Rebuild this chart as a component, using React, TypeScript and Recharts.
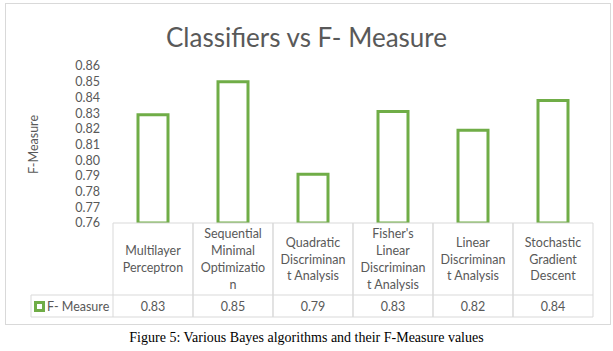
import React from 'react';
import { BarChart, Bar, XAxis, YAxis } from 'recharts';

// chart values
const categories = [
  'Multilayer Perceptron',
  'Sequential Minimal Optimization',
  'Quadratic Discriminant Analysis',
  "Fisher's Linear Discriminant Analysis",
  'Linear Discriminant Analysis',
  'Stochastic Gradient Descent',
];
// header cell text, wrapped the way the data table shows it
const categoryLines = [
  ['Multilayer', 'Perceptron'],
  ['Sequential', 'Minimal', 'Optimizatio', 'n'],
  ['Quadratic', 'Discriminan', 't Analysis'],
  ["Fisher's", 'Linear', 'Discriminan', 't Analysis'],
  ['Linear', 'Discriminan', 't Analysis'],
  ['Stochastic', 'Gradient', 'Descent'],
];
const fMeasure = [0.829, 0.85, 0.791, 0.831, 0.819, 0.838];
const yTicks = [0.76, 0.77, 0.78, 0.79, 0.8, 0.81, 0.82, 0.83, 0.84, 0.85, 0.86];
const seriesName = 'F- Measure';

const data = categories.map((name, i) => ({ name, value: fMeasure[i] }));

const GRID = '#d9d9d9';
const TEXT = '#595959';
const GREEN = '#70ad47';
const FONT = 'Lato, "Open Sans", sans-serif';

const HEADER_H = 72;
const ROW_H = 22;
const LINE_H = 16.7;
const LEGEND_W = 82;

const TableTick = (props: any) => {
  const { x, y, payload, index } = props;
  const half = payload && payload.offset ? payload.offset : 40;
  const lines = categoryLines[index] || [];
  const left = x - half;
  const right = x + half;
  const rowTop = y + HEADER_H;
  const rowBottom = rowTop + ROW_H;
  const startY = y + HEADER_H / 2 - ((lines.length - 1) * LINE_H) / 2;
  return (
    <g>
      <line x1={left} x2={right} y1={y} y2={y} stroke={GRID} />
      <line x1={left} x2={left} y1={y} y2={rowBottom} stroke={GRID} />
      <line x1={right} x2={right} y1={y} y2={rowBottom} stroke={GRID} />
      <line x1={left} x2={right} y1={rowTop} y2={rowTop} stroke={GRID} />
      <line x1={left} x2={right} y1={rowBottom} y2={rowBottom} stroke={GRID} />
      {lines.map((l: string, i: number) => (
        <text
          key={i}
          x={x}
          y={startY + i * LINE_H}
          textAnchor="middle"
          dominantBaseline="central"
          fill={TEXT}
          fontSize={12.5}
          fontFamily={FONT}
        >
          {l}
        </text>
      ))}
      <text
        x={x}
        y={rowTop + ROW_H / 2}
        textAnchor="middle"
        dominantBaseline="central"
        fill={TEXT}
        fontSize={12.5}
        fontFamily={FONT}
      >
        {fMeasure[index].toFixed(2)}
      </text>
      {index === 0 && (
        <g>
          <line x1={left - LEGEND_W} x2={left} y1={rowTop} y2={rowTop} stroke={GRID} />
          <line x1={left - LEGEND_W} x2={left} y1={rowBottom} y2={rowBottom} stroke={GRID} />
          <line x1={left - LEGEND_W} x2={left - LEGEND_W} y1={rowTop} y2={rowBottom} stroke={GRID} />
          <rect
            x={left - LEGEND_W + 4.5}
            y={rowTop + 7.5}
            width={8}
            height={8}
            fill="#fff"
            stroke={GREEN}
            strokeWidth={3}
          />
          <text
            x={left - LEGEND_W + 16}
            y={rowTop + ROW_H / 2}
            dominantBaseline="central"
            fill={TEXT}
            fontSize={12.5}
            fontFamily={FONT}
          >
            {seriesName}
          </text>
        </g>
      )}
    </g>
  );
};

const YLabel = (props: any) => {
  const { viewBox } = props;
  const cx = viewBox.x + 28;
  const cy = viewBox.y + viewBox.height / 2;
  return (
    <text
      x={cx}
      y={cy}
      transform={`rotate(-90, ${cx}, ${cy})`}
      textAnchor="middle"
      dominantBaseline="central"
      fill={TEXT}
      fontSize={12.5}
      fontFamily={FONT}
    >
      F-Measure
    </text>
  );
};

export default function App() {
  return (
    <div
      style={{
        position: 'absolute',
        left: 0,
        top: 0,
        width: 613,
        height: 351,
        background: '#fff',
        overflow: 'hidden',
      }}
    >
      <div
        style={{
          position: 'absolute',
          left: 5,
          top: 3,
          width: 606,
          height: 322,
          boxSizing: 'border-box',
          border: `1px solid ${GRID}`,
        }}
      />
      <div
        style={{
          position: 'absolute',
          left: 0,
          top: 21,
          width: 613,
          lineHeight: '32px',
          textAlign: 'center',
          fontFamily: FONT,
          fontSize: 26,
          color: TEXT,
        }}
      >
        Classifiers vs F- Measure
      </div>
      <div style={{ position: 'absolute', left: 0, top: 0 }}>
        <BarChart
          width={613}
          height={326}
          data={data}
          margin={{ top: 66, right: 20, bottom: 3, left: 5 }}
        >
          <YAxis
            width={108}
            domain={[0.76, 0.86]}
            ticks={yTicks}
            interval={0}
            allowDataOverflow
            axisLine={false}
            tickLine={false}
            tickSize={0}
            tickMargin={13}
            tickFormatter={(v: number) => v.toFixed(2)}
            tick={{ fill: TEXT, fontSize: 12.5, fontFamily: FONT }}
            label={<YLabel />}
          />
          <XAxis
            dataKey="name"
            height={100}
            interval={0}
            axisLine={false}
            tickLine={false}
            tickSize={0}
            tickMargin={0}
            tick={(p: any) => <TableTick {...p} />}
          />
          <Bar
            dataKey="value"
            name={seriesName}
            fill="#fff"
            stroke={GREEN}
            strokeWidth={3}
            barSize={30}
            isAnimationActive={false}
          />
        </BarChart>
      </div>
      <div
        style={{
          position: 'absolute',
          left: 0,
          top: 329,
          width: 613,
          lineHeight: '18px',
          textAlign: 'center',
          fontFamily: '"Liberation Serif", "Times New Roman", serif',
          fontSize: 14,
          color: '#000',
        }}
      >
        Figure 5: Various Bayes algorithms and their F-Measure values
      </div>
    </div>
  );
}
